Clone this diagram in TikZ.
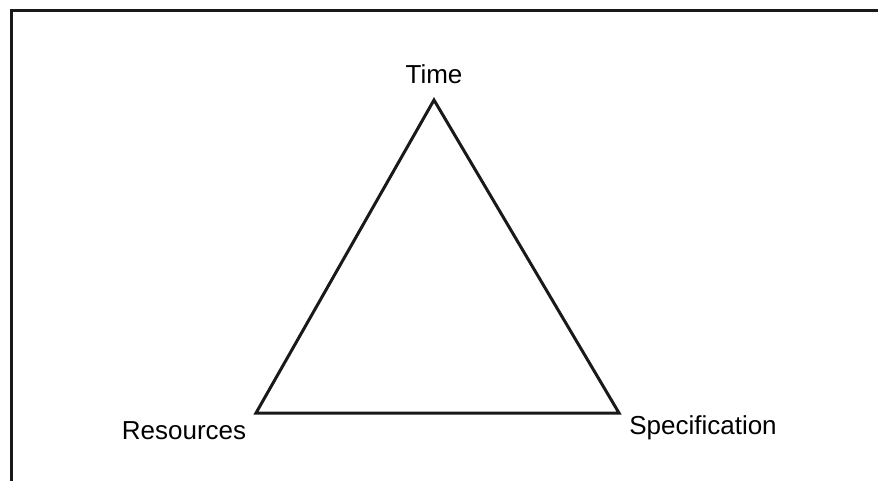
\documentclass[tikz,border=0pt]{standalone}
\usepackage{fontspec}
\setmainfont{Liberation Sans}
\begin{document}
\begin{tikzpicture}[x=0.5pt,y=-0.5pt,font=\fontsize{13}{15}\selectfont,
  edge/.style={line width=1.5pt,line join=miter,black!90}]
  \useasboundingbox (0,0) rectangle (878,481);
  % frame
  \draw[line width=1.5pt,black!90] (11.5,481) -- (11.5,10.5) -- (878,10.5);
  % corners of the triangle
  \coordinate (time) at (434,100);
  \coordinate (res) at (256,413);
  \coordinate (spec) at (619,413);
  \draw[edge] (time) -- (res) -- (spec) -- cycle;
  \node (timelabel) at (434,74) {Time};
  \node (reslabel) at (184,431) {Resources};
  \node (speclabel) at (703,428) {Specification};
\end{tikzpicture}
\end{document}
